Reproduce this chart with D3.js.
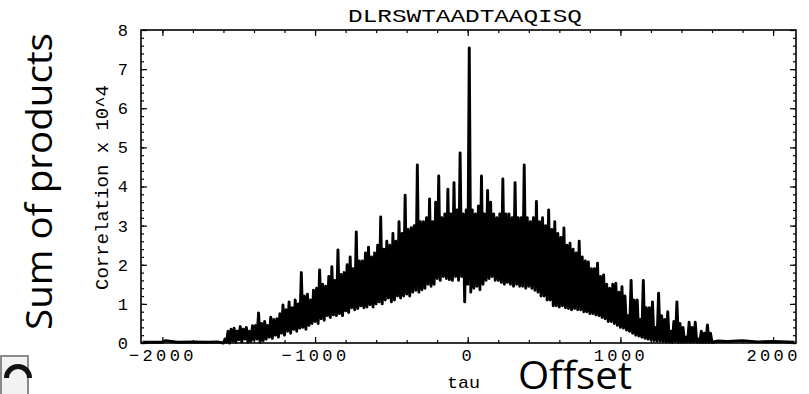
<!DOCTYPE html>
<html>
<head>
<meta charset="utf-8">
<script src="https://cdn.jsdelivr.net/npm/d3@7"></script>
<style>
  body { margin: 0; background: #fff; }
  svg { display: block; }
  .mono { font-family: "Liberation Mono", "DejaVu Sans Mono", monospace; fill: #000; }
  .big { font-family: "Open Sans", "Noto Sans", sans-serif; fill: #000; }
  .axis path.domain { display: none; }
  .axis line { stroke: #000; stroke-width: 1.2; }
</style>
</head>
<body>
<svg id="chart" width="809" height="394"></svg>
<script>
const title = "DLRSWTAADTAAQISQ";
const xTicks = [-2000, -1000, 0, 1000, 2000];
const yTicks = [0, 1, 2, 3, 4, 5, 6, 7, 8];

// trace, tau = -1600 .. 1600 every 20:
// corrLo at tau, corrHi at tau + 10 (the trace swings between them)
const tauStart = -1600, tauStep = 20;
const corrLo = [
  0.00, 0.02, 0.00, 0.05, 0.02, 0.08, 0.03, 0.10, 0.02, 0.05,
  0.08, 0.10, 0.02, 0.06, 0.10, 0.15, 0.12, 0.20, 0.15, 0.25,
  0.20, 0.30, 0.25, 0.35, 0.30, 0.38, 0.40, 0.35, 0.45, 0.50,
  0.55, 0.50, 0.62, 0.58, 0.70, 0.65, 0.72, 0.70, 0.75, 0.70,
  0.82, 0.78, 0.90, 0.85, 0.88, 0.95, 0.90, 0.92, 0.98, 0.92,
  1.00, 1.05, 1.00, 1.10, 1.15, 1.05, 1.10, 1.20, 1.15, 1.20,
  1.25, 1.20, 1.30, 1.35, 1.30, 1.36, 1.40, 1.50, 1.45, 1.50,
  1.65, 1.60, 1.70, 1.65, 1.62, 1.60, 1.70, 1.60, 1.70, 1.05,
  1.50, 1.30, 1.40, 1.45, 1.36, 1.50, 1.60, 1.65, 1.70, 1.60,
  1.60, 1.55, 1.50, 1.55, 1.50, 1.45, 1.50, 1.45, 1.45, 1.40,
  1.45, 1.40, 1.35, 1.30, 1.20, 1.20, 1.10, 1.10, 0.95, 0.95,
  0.92, 0.95, 0.90, 0.88, 0.85, 0.88, 0.85, 0.85, 0.80, 0.80,
  0.75, 0.75, 0.72, 0.70, 0.65, 0.62, 0.55, 0.55, 0.50, 0.45,
  0.40, 0.38, 0.33, 0.30, 0.25, 0.20, 0.18, 0.15, 0.12, 0.10,
  0.08, 0.06, 0.05, 0.05, 0.04, 0.03, 0.03, 0.02, 0.04, 0.02,
  0.02, 0.02, 0.03, 0.02, 0.03, 0.02, 0.02, 0.02, 0.02, 0.02,
  0.02
];
const corrHi = [
  0.10, 0.30, 0.35, 0.38, 0.30, 0.42, 0.35, 0.40, 0.30, 0.44,
  0.45, 0.77, 0.50, 0.55, 0.45, 0.66, 0.60, 0.62, 0.75, 0.97,
  0.85, 1.05, 0.90, 1.10, 1.00, 1.80, 1.20, 1.25, 1.10, 1.35,
  1.40, 1.87, 1.50, 1.45, 1.70, 1.95, 1.60, 2.38, 1.75, 1.80,
  2.00, 2.20, 1.90, 2.84, 2.10, 2.10, 2.30, 2.45, 2.20, 2.30,
  2.50, 3.22, 2.40, 2.60, 2.50, 2.80, 2.60, 3.10, 2.80, 3.78,
  2.90, 2.95, 3.00, 4.55, 3.10, 3.10, 3.20, 3.68, 3.10, 3.60,
  4.27, 3.20, 3.30, 3.93, 3.30, 4.10, 3.40, 4.86, 3.30, 3.40,
  7.54, 3.40, 3.30, 3.50, 4.27, 3.30, 3.90, 3.60, 3.30, 3.20,
  3.30, 4.19, 3.30, 3.30, 3.20, 4.10, 3.20, 3.20, 4.55, 3.20,
  3.10, 3.20, 3.62, 3.10, 3.20, 3.00, 3.40, 2.90, 3.10, 2.80,
  2.70, 2.94, 2.50, 2.55, 2.40, 2.30, 2.60, 2.20, 2.10, 2.07,
  1.90, 1.90, 2.04, 1.70, 1.74, 1.50, 1.40, 1.50, 1.53, 1.30,
  1.44, 1.20, 0.70, 1.60, 1.10, 1.10, 0.60, 1.60, 0.90, 0.90,
  1.05, 0.40, 1.27, 0.70, 0.60, 0.80, 0.30, 0.55, 1.05, 0.50,
  0.40, 0.15, 0.53, 0.40, 0.53, 0.10, 0.30, 0.25, 0.46, 0.25,
  0.05
];

// near-zero tails outside the main trace
const leftTau  = [-2130, -2000, -1980, -1900, -1800, -1700, -1640];
const leftCorr = [0.02, 0.02, 0.06, 0.02, 0.03, 0.02, 0.03];
const rightTau  = [1640, 1700, 1800, 1900, 2000, 2140];
const rightCorr = [0.05, 0.04, 0.06, 0.03, 0.04, 0.02];

const data = [];
leftTau.forEach((t, i) => data.push({ tau: t, v: leftCorr[i] }));
corrLo.forEach((v, i) => {
  const t = tauStart + i * tauStep;
  data.push({ tau: t, v: v });
  if (i < corrLo.length - 1) data.push({ tau: t + tauStep / 2, v: corrHi[i] });
});
rightTau.forEach((t, i) => data.push({ tau: t, v: rightCorr[i] }));

const svg = d3.select("#chart");
const frame = { left: 141, right: 796, top: 30, bottom: 343 };

const x = d3.scaleLinear().domain([-2140, 2150]).range([frame.left, frame.right]);
const y = d3.scaleLinear().domain([0, 8]).range([frame.bottom, frame.top]);

// trace
const line = d3.line()
  .x(d => x(d.tau))
  .y(d => y(d.v));

svg.append("path")
  .datum(data)
  .attr("fill", "none")
  .attr("stroke", "#000")
  .attr("stroke-width", 2.9)
  .attr("stroke-linejoin", "round")
  .attr("d", line);

// frame
svg.append("rect")
  .attr("x", frame.left)
  .attr("y", frame.top)
  .attr("width", frame.right - frame.left)
  .attr("height", frame.bottom - frame.top)
  .attr("fill", "none")
  .attr("stroke", "#000")
  .attr("stroke-width", 1.6);

const xMinor = d3.range(-2000, 2001, 200);
const yMinor = d3.range(0, 40).map(i => i * 0.2);

// bottom axis
svg.append("g")
  .attr("class", "axis")
  .attr("transform", "translate(0," + frame.bottom + ")")
  .call(d3.axisBottom(x).tickValues(xMinor).tickSize(-3).tickFormat(""));

const xAxisG = svg.append("g")
  .attr("class", "axis")
  .attr("transform", "translate(0," + frame.bottom + ")")
  .call(d3.axisBottom(x).tickValues(xTicks).tickSize(-6).tickPadding(6).tickFormat(d3.format("d")));
xAxisG.selectAll("text")
  .attr("font-size", 17)
  .style("letter-spacing", "3.4px")
  .attr("font-family", "Liberation Mono, DejaVu Sans Mono, monospace");

// top axis
svg.append("g")
  .attr("class", "axis")
  .attr("transform", "translate(0," + frame.top + ")")
  .call(d3.axisTop(x).tickValues(xMinor).tickSize(-3).tickFormat(""));
svg.append("g")
  .attr("class", "axis")
  .attr("transform", "translate(0," + frame.top + ")")
  .call(d3.axisTop(x).tickValues(xTicks).tickSize(-6).tickFormat(""));

// left axis
svg.append("g")
  .attr("class", "axis")
  .attr("transform", "translate(" + frame.left + ",0)")
  .call(d3.axisLeft(y).tickValues(yMinor).tickSize(-3).tickFormat(""));
const yAxisG = svg.append("g")
  .attr("class", "axis")
  .attr("transform", "translate(" + frame.left + ",0)")
  .call(d3.axisLeft(y).tickValues(yTicks).tickSize(-6).tickPadding(13).tickFormat(d3.format("d")));
yAxisG.selectAll("text")
  .attr("font-size", 17)
  .attr("font-family", "Liberation Mono, DejaVu Sans Mono, monospace");

// right axis
svg.append("g")
  .attr("class", "axis")
  .attr("transform", "translate(" + frame.right + ",0)")
  .call(d3.axisRight(y).tickValues(yMinor).tickSize(-3).tickFormat(""));
svg.append("g")
  .attr("class", "axis")
  .attr("transform", "translate(" + frame.right + ",0)")
  .call(d3.axisRight(y).tickValues(yTicks).tickSize(-6).tickFormat(""));

// title and axis labels
svg.append("text")
  .attr("class", "mono")
  .attr("x", 348)
  .attr("y", 22)
  .attr("font-size", 18)
  .attr("textLength", 234)
  .attr("lengthAdjust", "spacingAndGlyphs")
  .text(title);

svg.append("text")
  .attr("class", "mono")
  .attr("x", 447)
  .attr("y", 388)
  .attr("font-size", 17)
  .attr("textLength", 33)
  .attr("lengthAdjust", "spacingAndGlyphs")
  .text("tau");

svg.append("text")
  .attr("class", "mono")
  .attr("transform", "translate(108,290) rotate(-90)")
  .attr("font-size", 19)
  .attr("textLength", 205)
  .attr("lengthAdjust", "spacingAndGlyphs")
  .text("Correlation x 10^4");

svg.append("text")
  .attr("class", "big")
  .attr("x", 518)
  .attr("y", 389)
  .attr("font-size", 38)
  .attr("textLength", 114)
  .attr("lengthAdjust", "spacingAndGlyphs")
  .text("Offset");

svg.append("text")
  .attr("class", "big")
  .attr("transform", "translate(52,330) rotate(-90)")
  .attr("font-size", 37)
  .attr("textLength", 297)
  .attr("lengthAdjust", "spacingAndGlyphs")
  .text("Sum of products");

// clipped icon fragment at bottom-left
const icon = svg.append("g");
icon.append("rect")
  .attr("x", 1).attr("y", 356)
  .attr("width", 27).attr("height", 44)
  .attr("fill", "#f2f2f2")
  .attr("stroke", "#8a8a8a")
  .attr("stroke-width", 2);
icon.append("path")
  .attr("d", d3.arc()({ innerRadius: 9, outerRadius: 14, startAngle: -Math.PI / 2, endAngle: Math.PI / 2 }))
  .attr("transform", "translate(18,378)")
  .attr("fill", "#111");
</script>
</body>
</html>
